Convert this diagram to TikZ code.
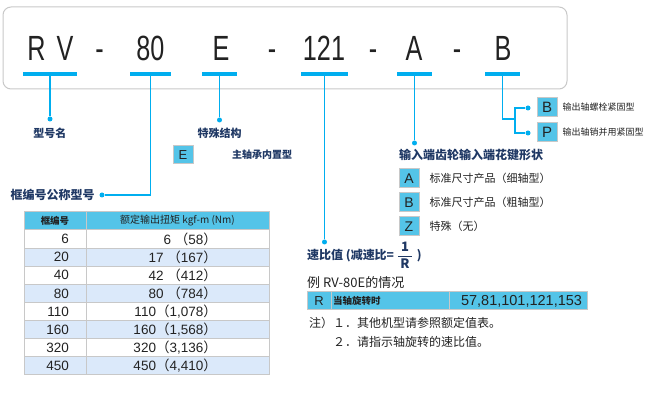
\documentclass[tikz,border=0pt]{standalone}
\usepackage{fontspec}
\setmainfont{Liberation Sans}
\newfontfamily\zh{Noto Sans CJK SC}
\newfontfamily\bigfont[FakeStretch=0.72]{Liberation Sans}
\usepackage{xcolor}
\usepackage{tikz}
\usetikzlibrary{positioning}

\definecolor{linkblue}{RGB}{0,174,239}
\definecolor{boxblue}{RGB}{84,196,232}
\definecolor{labelnavy}{RGB}{31,56,100}
\definecolor{rowblue}{RGB}{219,233,250}
\definecolor{edgegray}{RGB}{200,200,200}
\definecolor{ink}{RGB}{34,34,34}

\newcommand\zlp{{\zh（}}
\newcommand\zrp{{\zh）}}

\tikzset{
  cell/.style={draw=edgegray, line width=1pt, minimum height=18.1pt, inner sep=0pt, text=ink},
  keybox/.style={draw=edgegray, line width=1pt, fill=boxblue, minimum width=20pt, minimum height=19pt, inner sep=0pt, text=ink, font=\fontsize{14}{16}\selectfont}
}

\begin{document}
\begin{tikzpicture}[x=1pt, y=-1pt,
    bar/.style={fill=linkblue, minimum width=#1, minimum height=3.5pt, inner sep=0pt},
    dot/.style={circle, fill=linkblue, minimum size=5pt, inner sep=0pt},
    link/.style={draw=linkblue, line width=1.2pt},
    letter/.style={font=\bigfont\fontsize{35}{40}\selectfont, text=ink, anchor=base, inner sep=0pt},
    title/.style={font=\zh\bfseries\fontsize{#1}{#1}\selectfont, text=labelnavy, inner sep=0pt},
    note/.style={font=\zh\fontsize{#1}{#1}\selectfont, text=ink, inner sep=0pt}]
    \useasboundingbox (0,0) rectangle (654,406);
    \draw[edgegray, line width=1pt, rounded corners=8pt] (3,7) rectangle (567,89);

    \node[letter] (rv) at (50.5,61) {R\hspace{11pt}V};
    \node[letter] (n80) at (150.5,61) {80};
    \node[letter] (e) at (221,61) {E};
    \node[letter] (r121) at (324,61) {121};
    \node[letter] (a) at (414,61) {A};
    \node[letter] (b) at (503,61) {B};
    \foreach \x [count=\i] in {99.5,272,373,457}
        \node[letter] (dash\i) at (\x,61) {-};

    \node[bar=54pt] (rvbar) at (50,74) {};
    \node[bar=41pt] (n80bar) at (150.5,74) {};
    \node[bar=35pt] (ebar) at (219.5,74) {};
    \node[bar=47pt] (rbar) at (324.5,74) {};
    \node[bar=35pt] (abar) at (414.5,74) {};
    \node[bar=35pt] (bbar) at (502.5,74) {};

    \node[dot] (rvdot) at (50,119) {};
    \node[dot] (n80dot) at (102,195) {};
    \node[dot] (edot) at (219.5,120) {};
    \node[dot] (rdot) at (324.5,242) {};
    \node[dot] (adot) at (414.5,143) {};
    \node[dot] (bdot) at (528,108) {};
    \node[dot] (pdot) at (528,133) {};
    \coordinate (bfork) at (515,119);

    \draw[link] (rvbar) -- (rvdot);
    \draw[link] (n80bar) |- (n80dot);
    \draw[link] (ebar) -- (edot);
    \draw[link] (rbar) -- (rdot);
    \draw[link] (abar) -- (adot);
    \draw[link] (bbar) |- (bfork) |- (bdot);
    \draw[link] (bfork) |- (pdot);

    \node[title=11, below=6pt of rvdot] (typename) {型号名};
    \node[title=11, below=5pt of edot] (special) {特殊结构};
    \node[keybox, minimum height=18pt, font=\fontsize{13}{15}\selectfont] (ekey) at (183,155) {E};
    \node[title=10, anchor=west] (ebearing) at (232,155) {主轴承内置型};
    \node[title=12, left=4.5pt of n80dot] (frame) {框编号公称型号};

    \node[title=12, anchor=west] (input) at (399,155) {输入端齿轮输入端花键形状};
    \node[keybox] (akey) at (409,178.5) {A};
    \node[keybox] (bkey) at (409,202.5) {B};
    \node[keybox] (zkey) at (409,226.5) {Z};
    \node[note=11, right=10pt of akey] (astd) {标准尺寸产品（细轴型）};
    \node[note=11, right=10pt of bkey] (bstd) {标准尺寸产品（粗轴型）};
    \node[note=11, right=10pt of zkey] (zspec) {特殊（无）};

    \node[keybox, font=\fontsize{15}{17}\selectfont] (bout) at (547,107.5) {B};
    \node[keybox, font=\fontsize{15}{17}\selectfont] (pout) at (547,132.5) {P};
    \node[note=9, right=5pt of bout] (bbolt) {输出轴螺栓紧固型};
    \node[note=9, right=5pt of pout] (ppin) {输出轴销并用紧固型};

    \node[title=12, anchor=west] (ratio) at (307,255.5) {速比值 (减速比=\hspace{3pt}$\displaystyle\frac{\mbox{\fontsize{13}{13}\selectfont\rule[-3pt]{0pt}{3pt}\,1\,}}{\mbox{\fontsize{13}{13}\selectfont\rule{0pt}{11pt}\,R\,}}$\hspace{4pt})};

    \node[cell, fill=boxblue, minimum width=62pt, font=\zh\bfseries\fontsize{9.5}{10}\selectfont] (hk) at (55,221) {框编号};
    \node[cell, fill=boxblue, minimum width=183pt, font=\zh\fontsize{10}{11}\selectfont] (ht) at (177.5,221) {额定输出扭矩 kgf-m (Nm)};
    \foreach \k/\v/\c [count=\i] in {6/{6 \zlp58\zrp}/white, 20/{17 \zlp167\zrp}/rowblue,
        40/{42 \zlp412\zrp}/white, 80/{80 \zlp784\zrp}/rowblue,
        110/{110\zlp1,078\zrp}/white, 160/{160\zlp1,568\zrp}/rowblue,
        320/{320\zlp3,136\zrp}/white, 450/{450\zlp4,410\zrp}/rowblue}{
        \node[cell, fill=\c, minimum width=62pt] (k\i) at (55,{239.05+(\i-1)*18.125}) {};
        \node[cell, fill=\c, minimum width=183pt] (t\i) at (177.5,{239.05+(\i-1)*18.125}) {};
        \node[anchor=east, inner sep=0pt, text=ink, font=\fontsize{13.5}{15}\selectfont] (kv\i) at ([xshift=14pt]k\i.center) {\k};
        \node[anchor=east, inner sep=0pt, text=ink, font=\fontsize{13.5}{15}\selectfont] (tv\i) at ([xshift=39.5pt]t\i.center) {\v};
    }

    \node[note=13, anchor=west] (example) at (307,283) {例 RV-80E的情况};
    \node[cell, fill=boxblue, minimum width=24pt, minimum height=18pt, font=\fontsize{13}{15}\selectfont] (rcell) at (319,301) {R};
    \node[cell, fill=boxblue, minimum height=18pt, text width=114pt, inner xsep=2pt, align=left, font=\zh\bfseries\fontsize{9.5}{10}\selectfont] (rdesc) at (390,301) {当轴旋转时};
    \node[cell, fill=boxblue, minimum height=18pt, text width=128pt, inner xsep=5pt, align=right, font=\fontsize{14.5}{16}\selectfont] (rvals) at (518,301) {57,81,101,121,153};

    \node[note=12, anchor=west] (note1) at (309,323) {注）１．其他机型请参照额定值表。};
    \node[note=12, anchor=west] (note2) at (309,342) {\phantom{注）}２．请指示轴旋转的速比值。};
\end{tikzpicture}
\end{document}
